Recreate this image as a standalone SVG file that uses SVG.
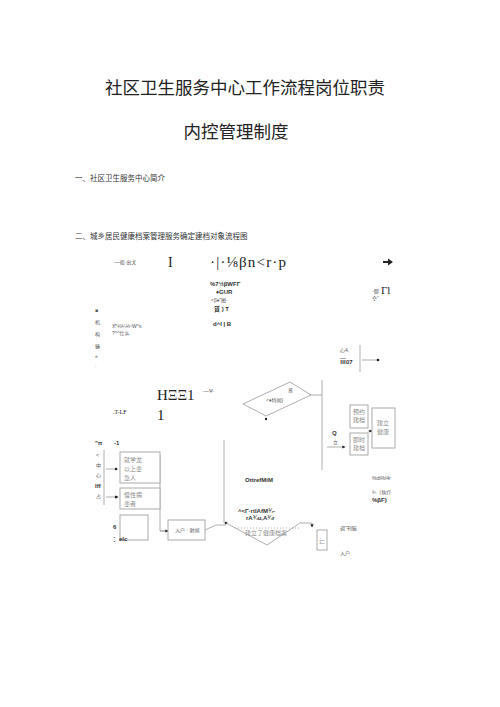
<svg xmlns="http://www.w3.org/2000/svg" width="500" height="707" viewBox="0 0 500 707">
<defs>
<style>
.t{font-family:"Liberation Sans","Noto Sans CJK SC",sans-serif;fill:#222}
.h{font-size:17.5px}
.s{font-size:7.5px;fill:#333}
.x{font-size:5px;fill:#555}
.b{font-size:6px;font-weight:bold;fill:#333}
.sf{font-family:"Liberation Serif","Noto Sans CJK SC",serif;fill:#222}
.g{font-size:6px;fill:#888}
.ln{stroke:#999;stroke-width:0.8;fill:none}
.bx{stroke:#aaa;stroke-width:1;fill:#fff}
.dk{stroke:#333;stroke-width:0.8;fill:none}
</style>
<marker id="ar" viewBox="0 0 6 6" refX="5" refY="3" markerWidth="4" markerHeight="4" orient="auto"><path d="M0,0L6,3L0,6z" fill="#222"/></marker>
</defs>
<rect width="500" height="707" fill="#fff"/>
<text class="t h" x="245" y="94" text-anchor="middle">社区卫生服务中心工作流程岗位职责</text>
<text class="t h" x="236" y="138" text-anchor="middle">内控管理制度</text>
<text class="t s" x="75" y="181">一、社区卫生服务中心简介</text>
<text class="t s" x="75" y="239">二、城乡居民健康档案管理服务确定建档对象流程图</text>

<g id="connectors">
<path d="M383,261H388V258.5L393,262L388,265.5V263H383z" fill="#222"/>
<path class="ln" d="M360,345V372M362,360H378"/>
<circle cx="378" cy="360" r="1.3" fill="#222"/>
<path class="ln" d="M310,395H322M322,380V470"/>
<circle cx="266" cy="419" r="1.2" fill="#222"/>
<path class="ln" d="M327,447H345" marker-end="url(#ar)"/>
<path class="ln" d="M368,431H372" marker-end="url(#ar)"/>
<path class="ln" d="M104,450V505"/>
<path class="ln" d="M106,469H118M106,497H118" marker-end="url(#ar)"/>
<circle cx="116" cy="469" r="1.2" fill="#222"/>
<circle cx="116" cy="497" r="1.2" fill="#222"/>
<path class="ln" d="M160,455V531H168"/>
<path class="ln" d="M160,531H168" marker-end="url(#ar)"/>
<path class="ln" d="M205,530L216,525H226"/>
<path class="ln" d="M224,440V523"/>
<circle cx="226" cy="523" r="1.3" fill="#222"/>
<path class="ln" d="M300,523H312V527" marker-end="url(#ar)"/>
</g>

<g id="header-row">
<text class="t x" x="113" y="264">·一般·出犬</text>
<text class="sf" x="168" y="267" font-size="14">I</text>
<text class="sf" x="210" y="267" font-size="15" textLength="76">·|·⅛βn&lt;r·p</text>
</g>

<g id="node-center">
<text class="t b" x="210" y="286">%7½βWFΓ</text>
<text class="t b" x="216" y="294">♦GUR</text>
<text class="t x" x="211" y="302">&lt;β♦"图·</text>
<text class="t b" x="214" y="311">質 ) T</text>
<text class="t b" x="213" y="326">d^I | B</text>
</g>

<g id="node-right-top">
<text class="t x" x="372" y="293">·御</text>
<text class="sf" x="381" y="294" font-size="11">Γl</text>
<text class="t x" x="372" y="300">仝"</text>
</g>

<g id="node-left">
<text class="t x" x="95" y="312">■</text>
<text class="t x" x="95" y="324">机</text>
<text class="t x" x="95" y="336">构</text>
<text class="t x" x="95" y="348">蝽</text>
<text class="t x" x="95" y="358">«</text>
<text class="t x" x="95" y="368">·</text>
<text class="t x" x="112" y="328">X⁰⅛¼⅛⁴W^x</text>
<text class="t x" x="112" y="335">?^^仕么</text>
</g>

<g id="node-mid">
<text class="t x" x="340" y="352">心4.</text>
<text class="t b" x="340" y="364">ⅲ07</text>
</g>

<g id="node-hee">
<text class="sf" x="157" y="400" font-size="15">HΞΞ1</text>
<text class="sf" x="157" y="420" font-size="15">1</text>
<text class="t x" x="202" y="393">·一Ψ·</text>
<text class="sf" x="113" y="414" font-size="6">.T-LF</text>
</g>

<g id="diamond-top">
<polygon class="ln" points="243,404 290,382 311,395 266,416"/>
<text class="t x" x="288" y="392">普</text>
<text class="t x" x="266" y="402">&lt;♦特闻)</text>
</g>

<g id="box-yuyue"><rect class="bx" x="350" y="405" width="18" height="23"/><text class="t g" x="353" y="414">预约</text><text class="t g" x="353" y="422">建档</text></g>
<g id="box-jishi"><rect class="bx" x="350" y="433" width="18" height="22"/><text class="t g" x="353" y="442">即时</text><text class="t g" x="353" y="450">建档</text></g>
<g id="box-jianli"><rect class="bx" x="372" y="408" width="23" height="40"/><text class="t g" x="377" y="425">建立</text><text class="t g" x="377" y="434">健康</text></g>
<g id="node-q"><text class="t b" x="332" y="435">Q</text><text class="t x" x="333" y="444">立</text></g>

<g id="node-left-group">
<text class="t b" x="95" y="445">"π</text>
<text class="t b" x="114" y="445">-1</text>
<text class="t x" x="96" y="457">&lt;</text>
<text class="t x" x="96" y="467">中</text>
<text class="t x" x="96" y="477">心</text>
<text class="t b" x="95" y="488">Iff</text>
<text class="t x" x="96" y="498">占</text>
</g>
<g id="box-old"><rect class="bx" x="120" y="452" width="40" height="31"/><text class="t g" x="124" y="462">就学龙</text><text class="t g" x="124" y="471">以上患</text><text class="t g" x="124" y="480">急人</text></g>
<g id="box-chronic"><rect class="bx" x="120" y="488" width="40" height="21"/><text class="t g" x="124" y="497">慢性病</text><text class="t g" x="124" y="506">患者</text></g>
<g id="box-other"><rect class="bx" x="120" y="515" width="28" height="25"/><text class="t b" x="113" y="529">6</text><text class="t b" x="113" y="541">：elc</text></g>
<g id="box-visit"><rect class="bx" x="168" y="520" width="37" height="20"/><text class="t x" x="175" y="532">入户 · 射闻</text></g>

<g id="node-ottref"><text class="t b" x="245" y="482">OttrefMiM</text></g>
<g id="node-right-mid">
<text class="t x" x="372" y="480">%dt%l4r</text>
<text class="t x" x="372" y="494">¾（執疗</text>
<text class="t b" x="372" y="502">%βF)</text>
</g>

<g id="diamond-bottom">
<polyline class="ln" points="226,523 267,545 300,523"/>
<path class="ln" d="M235,528H300" stroke-dasharray="1,2"/>
<text class="t b" x="238" y="513">^&lt;Γ·rtlAfM¾-</text>
<text class="t b" x="246" y="520">rA¾u,A¾r</text>
<text class="t g" x="245" y="535">建立了健康档案</text>
</g>
<g id="box-small"><rect class="bx" x="317" y="530" width="10" height="20"/><text class="t g" x="319" y="543">辷</text></g>
<g id="node-right-bottom">
<text class="t x" x="340" y="530">调"刊脑</text>
<text class="t x" x="340" y="555">入户</text>
</g>
</svg>
